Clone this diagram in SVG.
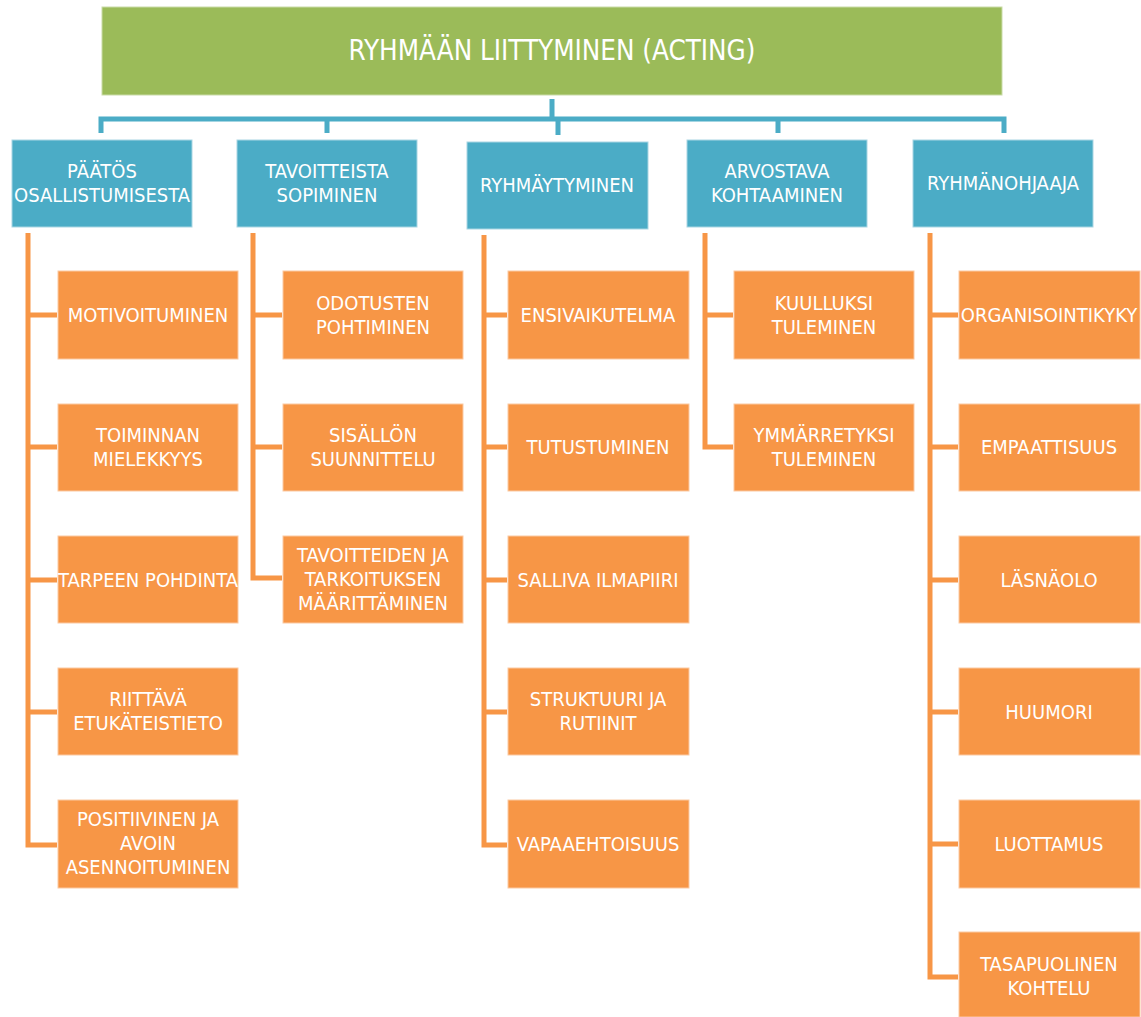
<svg xmlns="http://www.w3.org/2000/svg" width="1141" height="1017" viewBox="0 0 1141 1017">
<style>
text{font-family:"Liberation Sans Narrow","DejaVu Sans Condensed","Liberation Sans",sans-serif;fill:#fff;text-anchor:middle}
.t{font-size:27.5px}
.b{font-size:20px}
.top{fill:#9BBB59;stroke:#c9dba8;stroke-width:1}
.blue{fill:#4BACC6;stroke:#a9d6e3;stroke-width:1}
.or{fill:#F79646;stroke:#fbc9a2;stroke-width:1}
.cb{fill:none;stroke:#4BACC6;stroke-width:5}
.co{fill:none;stroke:#F79646;stroke-width:5}
</style>
<g id="connectors">
<path class="cb" d="M552 99V119M101 133V119H1004V133M327 119V133M558 119V135M778 119V133"/>
<path class="co" d="M28 233V845H57M28 315H57M28 447H57M28 580H57M28 712H57"/>
<path class="co" d="M253 233V578H282M253 315H282M253 447H282"/>
<path class="co" d="M484 235V845H507M484 315H507M484 447H507M484 580H507M484 712H507"/>
<path class="co" d="M705 233V447H733M705 315H733"/>
<path class="co" d="M930 233V977H958M930 315H958M930 447H958M930 580H958M930 712H958M930 844H958"/>
</g>
<g id="root"><rect class="top" x="102" y="7" width="900" height="88"/><text class="t" x="552" y="60">RYHMÄÄN LIITTYMINEN (ACTING)</text></g>
<g id="b1"><rect class="blue" x="12" y="140" width="180" height="87"/><text class="b" x="102" y="178">PÄÄTÖS</text><text class="b" x="102" y="202">OSALLISTUMISESTA</text></g>
<g id="b2"><rect class="blue" x="237" y="140" width="180" height="87"/><text class="b" x="327" y="178">TAVOITTEISTA</text><text class="b" x="327" y="202">SOPIMINEN</text></g>
<g id="b3"><rect class="blue" x="467" y="142" width="181" height="87"/><text class="b" x="557" y="192">RYHMÄYTYMINEN</text></g>
<g id="b4"><rect class="blue" x="687" y="140" width="180" height="87"/><text class="b" x="777" y="178">ARVOSTAVA</text><text class="b" x="777" y="202">KOHTAAMINEN</text></g>
<g id="b5"><rect class="blue" x="913" y="140" width="180" height="87"/><text class="b" x="1003" y="190">RYHMÄNOHJAAJA</text></g>

<g id="c1a"><rect class="or" x="58" y="271" width="180" height="88"/><text class="b" x="148" y="322">MOTIVOITUMINEN</text></g>
<g id="c1b"><rect class="or" x="58" y="404" width="180" height="87"/><text class="b" x="148" y="442">TOIMINNAN</text><text class="b" x="148" y="466">MIELEKKYYS</text></g>
<g id="c1c"><rect class="or" x="58" y="536" width="180" height="87"/><text class="b" x="148" y="587">TARPEEN POHDINTA</text></g>
<g id="c1d"><rect class="or" x="58" y="668" width="180" height="87"/><text class="b" x="148" y="706">RIITTÄVÄ</text><text class="b" x="148" y="730">ETUKÄTEISTIETO</text></g>
<g id="c1e"><rect class="or" x="58" y="800" width="180" height="88"/><text class="b" x="148" y="826">POSITIIVINEN JA</text><text class="b" x="148" y="850">AVOIN</text><text class="b" x="148" y="874">ASENNOITUMINEN</text></g>

<g id="c2a"><rect class="or" x="283" y="271" width="180" height="88"/><text class="b" x="373" y="310">ODOTUSTEN</text><text class="b" x="373" y="334">POHTIMINEN</text></g>
<g id="c2b"><rect class="or" x="283" y="404" width="180" height="87"/><text class="b" x="373" y="442">SISÄLLÖN</text><text class="b" x="373" y="466">SUUNNITTELU</text></g>
<g id="c2c"><rect class="or" x="283" y="536" width="180" height="87"/><text class="b" x="373" y="562">TAVOITTEIDEN JA</text><text class="b" x="373" y="586">TARKOITUKSEN</text><text class="b" x="373" y="610">MÄÄRITTÄMINEN</text></g>

<g id="c3a"><rect class="or" x="508" y="271" width="181" height="88"/><text class="b" x="598" y="322">ENSIVAIKUTELMA</text></g>
<g id="c3b"><rect class="or" x="508" y="404" width="181" height="87"/><text class="b" x="598" y="454">TUTUSTUMINEN</text></g>
<g id="c3c"><rect class="or" x="508" y="536" width="181" height="87"/><text class="b" x="598" y="587">SALLIVA ILMAPIIRI</text></g>
<g id="c3d"><rect class="or" x="508" y="668" width="181" height="87"/><text class="b" x="598" y="706">STRUKTUURI JA</text><text class="b" x="598" y="730">RUTIINIT</text></g>
<g id="c3e"><rect class="or" x="508" y="800" width="181" height="88"/><text class="b" x="598" y="851">VAPAAEHTOISUUS</text></g>

<g id="c4a"><rect class="or" x="734" y="271" width="180" height="88"/><text class="b" x="824" y="310">KUULLUKSI</text><text class="b" x="824" y="334">TULEMINEN</text></g>
<g id="c4b"><rect class="or" x="734" y="404" width="180" height="87"/><text class="b" x="824" y="442">YMMÄRRETYKSI</text><text class="b" x="824" y="466">TULEMINEN</text></g>

<g id="c5a"><rect class="or" x="959" y="271" width="181" height="88"/><text class="b" x="1049" y="322">ORGANISOINTIKYKY</text></g>
<g id="c5b"><rect class="or" x="959" y="404" width="181" height="87"/><text class="b" x="1049" y="454">EMPAATTISUUS</text></g>
<g id="c5c"><rect class="or" x="959" y="536" width="181" height="87"/><text class="b" x="1049" y="587">LÄSNÄOLO</text></g>
<g id="c5d"><rect class="or" x="959" y="668" width="181" height="87"/><text class="b" x="1049" y="719">HUUMORI</text></g>
<g id="c5e"><rect class="or" x="959" y="800" width="181" height="88"/><text class="b" x="1049" y="851">LUOTTAMUS</text></g>
<g id="c5f"><rect class="or" x="959" y="932" width="181" height="85"/><text class="b" x="1049" y="971">TASAPUOLINEN</text><text class="b" x="1049" y="995">KOHTELU</text></g>
</svg>
